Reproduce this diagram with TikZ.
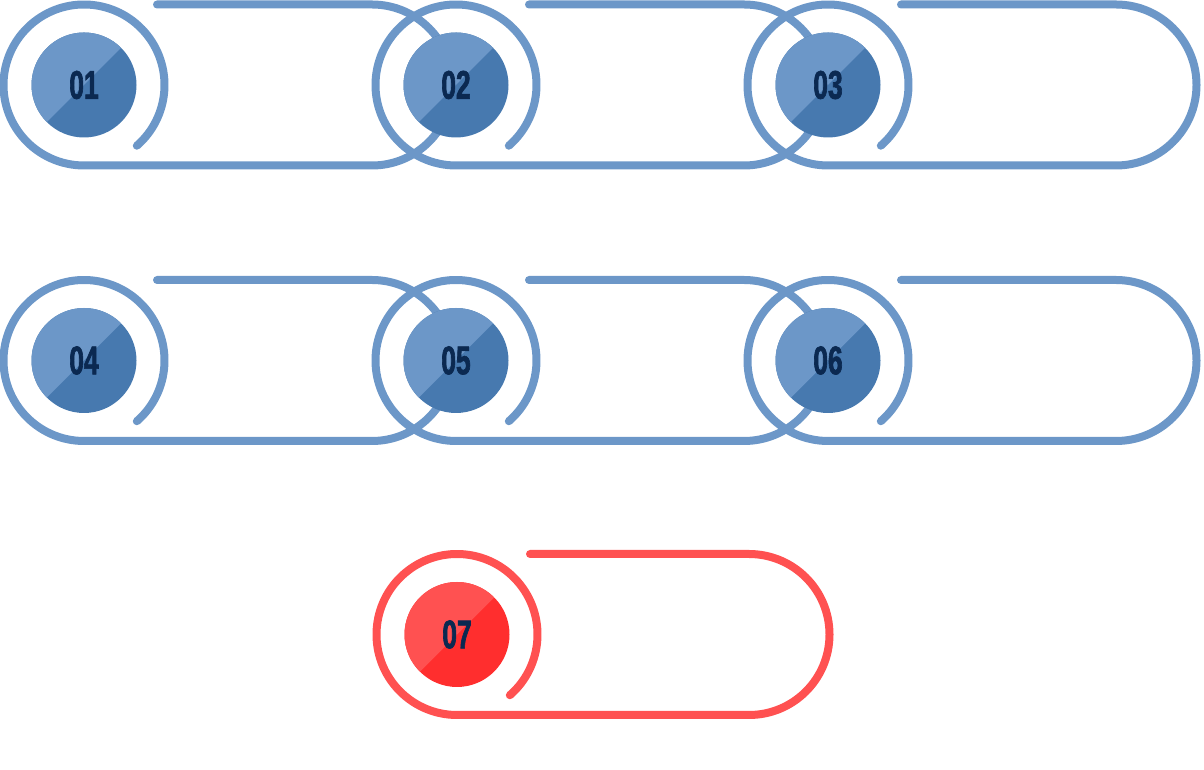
\documentclass[tikz,border=0pt]{standalone}
\usepackage{fontspec}
\newfontfamily\numfont{Liberation Sans}[FakeStretch=0.66,FakeBold=1.6]
\usetikzlibrary{calc,backgrounds}
\definecolor{steel}{HTML}{6C97C8}
\definecolor{steeldark}{HTML}{4779AF}
\definecolor{coral}{HTML}{FF5151}
\definecolor{coraldark}{HTML}{FF2E2E}
\definecolor{navy}{HTML}{0B2951}
\tikzset{
    ring/.style={line width=8pt,line cap=round},
    disc/.style 2 args={circle,minimum size=105pt,inner sep=0pt,fill=#2,text=navy,
        font=\numfont\bfseries\fontsize{40pt}{40pt}\selectfont,
        path picture={\fill[#1] (path picture bounding box.north west) -- (path picture bounding box.north east) -- (path picture bounding box.south west) -- cycle;}}
}
\begin{document}
\begin{tikzpicture}[x=1pt,y=1pt]
    \useasboundingbox (0,0) rectangle (1204,770);
    % number discs
    \node[disc={steel}{steeldark}] (d1) at (84,685) {01};
    \node[disc={steel}{steeldark}] (d2) at (456,685) {02};
    \node[disc={steel}{steeldark}] (d3) at (828,685) {03};
    \node[disc={steel}{steeldark}] (d4) at (84,409.5) {04};
    \node[disc={steel}{steeldark}] (d5) at (456,409.5) {05};
    \node[disc={steel}{steeldark}] (d6) at (828,409.5) {06};
    \node[disc={coral}{coraldark}] (d7) at (457,135.5) {07};
    % open rings and pills behind the discs
    \begin{scope}[on background layer]
        \draw[ring,steel] ($(d1)+(-49:80.5)$) arc[start angle=-49,end angle=270,radius=80.5pt] -- ++(288,0) arc[start angle=-90,end angle=90,radius=80.5pt] -- ++(-215,0);
        \draw[ring,steel] ($(d2)+(-49:80.5)$) arc[start angle=-49,end angle=270,radius=80.5pt] -- ++(288,0) arc[start angle=-90,end angle=90,radius=80.5pt] -- ++(-215,0);
        \draw[ring,steel] ($(d3)+(-49:80.5)$) arc[start angle=-49,end angle=270,radius=80.5pt] -- ++(288,0) arc[start angle=-90,end angle=90,radius=80.5pt] -- ++(-215,0);
        \draw[ring,steel] ($(d4)+(-49:80.5)$) arc[start angle=-49,end angle=270,radius=80.5pt] -- ++(288,0) arc[start angle=-90,end angle=90,radius=80.5pt] -- ++(-215,0);
        \draw[ring,steel] ($(d5)+(-49:80.5)$) arc[start angle=-49,end angle=270,radius=80.5pt] -- ++(288,0) arc[start angle=-90,end angle=90,radius=80.5pt] -- ++(-215,0);
        \draw[ring,steel] ($(d6)+(-49:80.5)$) arc[start angle=-49,end angle=270,radius=80.5pt] -- ++(288,0) arc[start angle=-90,end angle=90,radius=80.5pt] -- ++(-215,0);
        \draw[ring,coral] ($(d7)+(-49:80.5)$) arc[start angle=-49,end angle=270,radius=80.5pt] -- ++(292,0) arc[start angle=-90,end angle=90,radius=80.5pt] -- ++(-219,0);
    \end{scope}
\end{tikzpicture}
\end{document}
